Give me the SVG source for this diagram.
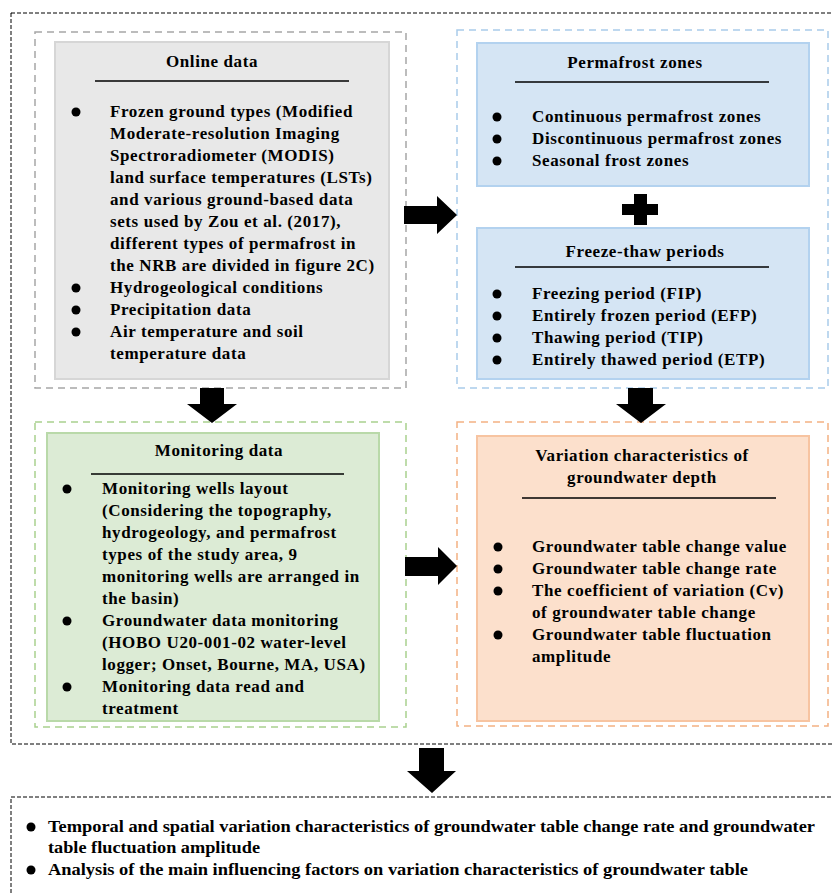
<svg xmlns="http://www.w3.org/2000/svg" width="833" height="895" viewBox="0 0 833 895">
<style>
text{font-family:"Liberation Serif","Times New Roman",serif;font-weight:bold;font-size:17px;fill:#000;letter-spacing:0.6px}
.t{text-anchor:middle}
.bt{font-size:16px;letter-spacing:0}
.ol{fill:none;stroke:#000;stroke-width:1;stroke-dasharray:4 2}
.ul{stroke:#000;stroke-width:1.4}
.b{fill:#000}
.arr{fill:#000}
.gO{fill:none;stroke:#a6a6a6;stroke-width:1.5;stroke-dasharray:7 5}
.gI{fill:#e8e8e8;stroke:#d6d6d6;stroke-width:2}
.bO{fill:none;stroke:#a9cbea;stroke-width:1.5;stroke-dasharray:7 5}
.bI{fill:#d5e5f4;stroke:#b3d2ef;stroke-width:2}
.eO{fill:none;stroke:#a9d18e;stroke-width:1.5;stroke-dasharray:7 5}
.eI{fill:#dcebd5;stroke:#b9d9a9;stroke-width:2}
.oO{fill:none;stroke:#f4b183;stroke-width:1.5;stroke-dasharray:7 5}
.oI{fill:#fce0cc;stroke:#f7c4a1;stroke-width:2}
</style>
<rect width="833" height="895" fill="#fff"/>
<rect id="outer-frame" class="ol" x="11" y="13" width="840" height="731"/>

<g id="online-data">
<rect class="gO" x="35" y="32" width="371" height="356"/>
<rect class="gI" x="55" y="42" width="334" height="337"/>
<text class="t" x="212" y="67">Online data</text>
<line class="ul" x1="95" y1="81" x2="349" y2="81"/>
<circle class="b" cx="76" cy="112" r="4.5"/>
<circle class="b" cx="76" cy="288" r="4.5"/>
<circle class="b" cx="76" cy="310" r="4.5"/>
<circle class="b" cx="76" cy="332" r="4.5"/>
<text x="110" y="117">Frozen ground types (Modified</text>
<text x="110" y="139">Moderate-resolution Imaging</text>
<text x="110" y="161">Spectroradiometer (MODIS)</text>
<text x="110" y="183">land surface temperatures (LSTs)</text>
<text x="110" y="205">and various ground-based data</text>
<text x="110" y="227">sets used by Zou et al. (2017),</text>
<text x="110" y="249">different types of permafrost in</text>
<text x="110" y="271">the NRB are divided in figure 2C)</text>
<text x="110" y="293">Hydrogeological conditions</text>
<text x="110" y="315">Precipitation data</text>
<text x="110" y="337">Air temperature and soil</text>
<text x="110" y="359">temperature data</text>
</g>

<g id="permafrost-group">
<rect class="bO" x="457" y="30" width="371" height="358"/>
<g id="permafrost-zones">
<rect class="bI" x="477" y="43" width="332" height="143"/>
<text class="t" x="635" y="68">Permafrost zones</text>
<line class="ul" x1="515" y1="82" x2="769" y2="82"/>
<circle class="b" cx="497" cy="117" r="4.5"/>
<circle class="b" cx="497" cy="139" r="4.5"/>
<circle class="b" cx="497" cy="161" r="4.5"/>
<text x="532" y="122">Continuous permafrost zones</text>
<text x="532" y="144">Discontinuous permafrost zones</text>
<text x="532" y="166">Seasonal frost zones</text>
</g>
<path id="plus" class="b" d="M634,194H647V204H658V215H647V225H634V215H622V204H634Z"/>
<g id="freeze-thaw">
<rect class="bI" x="477" y="228" width="332" height="151"/>
<text class="t" x="645" y="257">Freeze-thaw periods</text>
<line class="ul" x1="515" y1="267" x2="769" y2="267"/>
<circle class="b" cx="497" cy="294" r="4.5"/>
<circle class="b" cx="497" cy="316" r="4.5"/>
<circle class="b" cx="497" cy="338" r="4.5"/>
<circle class="b" cx="497" cy="360" r="4.5"/>
<text x="532" y="299">Freezing period (FIP)</text>
<text x="532" y="321">Entirely frozen period (EFP)</text>
<text x="532" y="343">Thawing period (TIP)</text>
<text x="532" y="365">Entirely thawed period (ETP)</text>
</g>
</g>

<g id="monitoring-data">
<rect class="eO" x="35" y="422" width="371" height="305"/>
<rect class="eI" x="47" y="433" width="332" height="288"/>
<text class="t" x="219" y="456">Monitoring data</text>
<line class="ul" x1="91" y1="474" x2="344" y2="474"/>
<circle class="b" cx="67" cy="489" r="4.5"/>
<circle class="b" cx="67" cy="621" r="4.5"/>
<circle class="b" cx="67" cy="687" r="4.5"/>
<text x="102" y="494">Monitoring wells layout</text>
<text x="102" y="516">(Considering the topography,</text>
<text x="102" y="538">hydrogeology, and permafrost</text>
<text x="102" y="560">types of the study area, 9</text>
<text x="102" y="582">monitoring wells are arranged in</text>
<text x="102" y="604">the basin)</text>
<text x="102" y="626">Groundwater data monitoring</text>
<text x="102" y="648">(HOBO U20-001-02 water-level</text>
<text x="102" y="670">logger; Onset, Bourne, MA, USA)</text>
<text x="102" y="692">Monitoring data read and</text>
<text x="102" y="714">treatment</text>
</g>

<g id="variation">
<rect class="oO" x="457" y="422" width="371" height="304"/>
<rect class="oI" x="477" y="436" width="332" height="285"/>
<text class="t" x="642" y="461">Variation characteristics of</text>
<text class="t" x="642" y="483">groundwater depth</text>
<line class="ul" x1="522" y1="498" x2="776" y2="498"/>
<circle class="b" cx="498" cy="547" r="4.5"/>
<circle class="b" cx="498" cy="569" r="4.5"/>
<circle class="b" cx="498" cy="591" r="4.5"/>
<circle class="b" cx="498" cy="635" r="4.5"/>
<text x="532" y="552">Groundwater table change value</text>
<text x="532" y="574">Groundwater table change rate</text>
<text x="532" y="596">The coefficient of variation (Cv)</text>
<text x="532" y="618">of groundwater table change</text>
<text x="532" y="640">Groundwater table fluctuation</text>
<text x="532" y="662">amplitude</text>
</g>

<g id="results">
<rect class="ol" x="11" y="797" width="840" height="120"/>
<circle class="b" cx="31" cy="827" r="4.5"/>
<circle class="b" cx="31" cy="870" r="4.5"/>
<text class="bt" x="48" y="832" textLength="767" lengthAdjust="spacingAndGlyphs">Temporal and spatial variation characteristics of groundwater table change rate and groundwater</text>
<text class="bt" x="48" y="853" textLength="212" lengthAdjust="spacingAndGlyphs">table fluctuation amplitude</text>
<text class="bt" x="48" y="875" textLength="700" lengthAdjust="spacingAndGlyphs">Analysis of the main influencing factors on variation characteristics of groundwater table</text>
</g>

<g id="connectors">
<polygon class="arr" points="404,206 437,206 437,196 457,215 437,234 437,224 404,224"/>
<polygon class="arr" points="405,557 438,557 438,547 457,566 438,585 438,576 405,576"/>
<polygon class="arr" points="200,388 224,388 224,404 237,404 212,423 187,404 200,404"/>
<polygon class="arr" points="628,388 653,388 653,404 666,404 641,423 616,404 628,404"/>
<polygon class="arr" points="419,748 444,748 444,771 456,771 432,793 407,771 419,771"/>
</g>
</svg>
